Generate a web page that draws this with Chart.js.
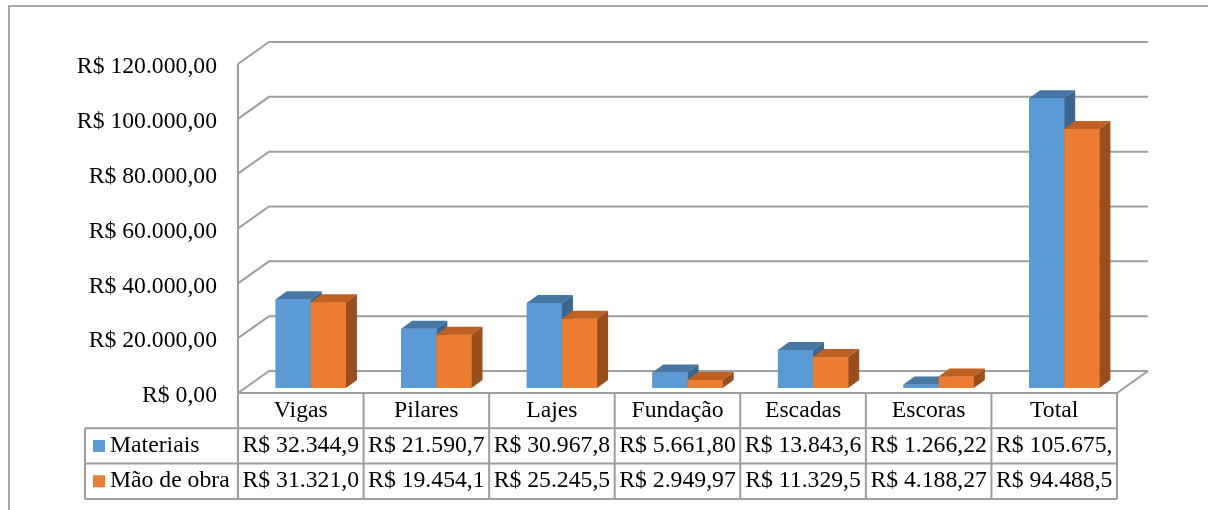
<!DOCTYPE html>
<html>
<head>
<meta charset="utf-8">
<script src="https://cdn.jsdelivr.net/npm/chart.js@4/dist/chart.umd.min.js"></script>
<style>
  html, body { margin: 0; padding: 0; background: #fff; }
  canvas { display: block; }
</style>
</head>
<body>
<canvas id="chart" width="1208" height="510"></canvas>
<script>
// Custos por elemento estrutural
const categories = ['Vigas', 'Pilares', 'Lajes', 'Fundação', 'Escadas', 'Escoras', 'Total'];
const seriesNames = ['Materiais', 'Mão de obra'];
const materiais = [32344.95, 21590.73, 30967.84, 5661.80, 13843.62, 1266.22, 105675.16];
const maoDeObra = [31321.05, 19454.12, 25245.53, 2949.97, 11329.56, 4188.27, 94488.50];
const yTicks = [0, 20000, 40000, 60000, 80000, 100000, 120000];

const FONT = '"Liberation Serif", "Times New Roman", serif';
const FS = 23.7;
const LINE = '#9e9e9e';
const COLORS = [
  { front: '#5b9bd5', top: '#4676a4', side: '#3a6690' },
  { front: '#ed7d31', top: '#bf6023', side: '#9a4e1c' }
];
// oblique projection: front edge, back wall and bar depth offsets
const FRONT = { dx: -10, dy: 5 };
const BACK = { dx: 21, dy: -17 };
const BAR3D = { dx: 11, dy: -8 };
const ROW_H = 35.3;
const LABEL_LEFT = 85;

function brl(v) {
  const parts = Number(v).toFixed(2).split('.');
  return 'R$ ' + parts[0].replace(/\B(?=(\d{3})+(?!\d))/g, '.') + ',' + parts[1];
}

const framePlugin = {
  id: 'frame',
  beforeDraw(chart) {
    const ctx = chart.ctx;
    ctx.save();
    ctx.fillStyle = '#fff';
    ctx.fillRect(0, 0, chart.width, chart.height);
    ctx.strokeStyle = '#a6a6a6';
    ctx.lineWidth = 2;
    ctx.beginPath();
    ctx.moveTo(9, chart.height);
    ctx.lineTo(9, 6);
    ctx.lineTo(chart.width, 6);
    ctx.stroke();
    ctx.restore();
  }
};

const wallPlugin = {
  id: 'wall',
  beforeDatasetsDraw(chart) {
    const ctx = chart.ctx, a = chart.chartArea, ys = chart.scales.y;
    const p0 = ys.getPixelForValue(0);
    const pMax = ys.getPixelForValue(yTicks[yTicks.length - 1]);
    ctx.save();
    ctx.strokeStyle = LINE;
    ctx.lineWidth = 2;
    ctx.beginPath();
    yTicks.forEach(v => {
      const p = ys.getPixelForValue(v);
      ctx.moveTo(a.left + FRONT.dx, p + FRONT.dy);
      ctx.lineTo(a.left + BACK.dx, p + BACK.dy);
      ctx.lineTo(a.right + BACK.dx, p + BACK.dy);
    });
    // side wall front edge
    ctx.moveTo(a.left + FRONT.dx, pMax + FRONT.dy);
    ctx.lineTo(a.left + FRONT.dx, p0 + FRONT.dy);
    // floor front and right edges
    ctx.lineTo(a.right + FRONT.dx, p0 + FRONT.dy);
    ctx.lineTo(a.right + BACK.dx, p0 + BACK.dy);
    ctx.stroke();
    ctx.restore();
  }
};

// Gives each bar a top and a right face; series are painted back to front
// per category so a neighbour's front face hides the hidden side.
const bar3dPlugin = {
  id: 'bar3d',
  afterDatasetsDraw(chart) {
    const ctx = chart.ctx;
    const metas = chart.data.datasets.map((d, i) => chart.getDatasetMeta(i));
    ctx.save();
    categories.forEach((cat, j) => {
      metas.forEach((meta, s) => {
        const bar = meta.data[j];
        if (!bar) return;
        const c = COLORS[s];
        const p = bar.getProps(['x', 'y', 'base', 'width'], true);
        const l = p.x - p.width / 2, r = p.x + p.width / 2;
        const t = Math.min(p.y, p.base), b = Math.max(p.y, p.base);
        ctx.fillStyle = c.front;
        ctx.fillRect(l, t, r - l, b - t);
        ctx.fillStyle = c.top;
        ctx.beginPath();
        ctx.moveTo(l, t);
        ctx.lineTo(l + BAR3D.dx, t + BAR3D.dy);
        ctx.lineTo(r + BAR3D.dx, t + BAR3D.dy);
        ctx.lineTo(r, t);
        ctx.closePath();
        ctx.fill();
        ctx.fillStyle = c.side;
        ctx.beginPath();
        ctx.moveTo(r, t);
        ctx.lineTo(r + BAR3D.dx, t + BAR3D.dy);
        ctx.lineTo(r + BAR3D.dx, b + BAR3D.dy);
        ctx.lineTo(r, b);
        ctx.closePath();
        ctx.fill();
      });
    });
    ctx.restore();
  }
};

const tablePlugin = {
  id: 'dataTable',
  afterDraw(chart) {
    const ctx = chart.ctx, a = chart.chartArea, ys = chart.scales.y;
    const x0 = a.left + FRONT.dx, x1 = a.right + FRONT.dx;
    const colW = (x1 - x0) / categories.length;
    const yTop = ys.getPixelForValue(0) + FRONT.dy;
    const rows = [yTop, yTop + ROW_H, yTop + 2 * ROW_H, yTop + 3 * ROW_H];
    const series = [materiais, maoDeObra];

    ctx.save();
    ctx.strokeStyle = LINE;
    ctx.lineWidth = 2;
    ctx.beginPath();
    for (let i = 1; i < rows.length; i++) {
      ctx.moveTo(LABEL_LEFT, rows[i]);
      ctx.lineTo(x1, rows[i]);
    }
    ctx.moveTo(LABEL_LEFT, rows[1]);
    ctx.lineTo(LABEL_LEFT, rows[3]);
    for (let k = 0; k <= categories.length; k++) {
      ctx.moveTo(x0 + k * colW, rows[0]);
      ctx.lineTo(x0 + k * colW, rows[3]);
    }
    ctx.stroke();

    ctx.font = FS + 'px ' + FONT;
    ctx.fillStyle = '#000';
    ctx.textBaseline = 'middle';
    ctx.textAlign = 'center';
    categories.forEach((name, i) => {
      ctx.fillText(name, x0 + (i + 0.5) * colW, (rows[0] + rows[1]) / 2);
    });

    const avail = colW - 6;
    series.forEach((vals, s) => {
      const cy = (rows[s + 1] + rows[s + 2]) / 2;
      ctx.fillStyle = COLORS[s].front;
      ctx.fillRect(93, cy - 6, 12, 12);
      ctx.fillStyle = '#000';
      ctx.textAlign = 'left';
      ctx.fillText(seriesNames[s], 110, cy);
      ctx.textAlign = 'center';
      vals.forEach((v, i) => {
        let txt = brl(v);
        while (txt.length > 1 && ctx.measureText(txt).width > avail) txt = txt.slice(0, -1);
        ctx.fillText(txt, x0 + (i + 0.5) * colW, cy);
      });
    });
    ctx.restore();
  }
};

new Chart(document.getElementById('chart'), {
  type: 'bar',
  data: {
    labels: categories,
    datasets: [
      { label: seriesNames[0], data: materiais, backgroundColor: COLORS[0].front },
      { label: seriesNames[1], data: maoDeObra, backgroundColor: COLORS[1].front }
    ]
  },
  options: {
    responsive: false,
    animation: false,
    events: [],
    layout: { padding: { top: 59, bottom: 122, left: 0, right: 81 } },
    datasets: { bar: { categoryPercentage: 0.56, barPercentage: 1, borderWidth: 0 } },
    plugins: { legend: { display: false }, tooltip: { enabled: false }, title: { display: false } },
    scales: {
      x: { type: 'category', display: false, offset: true },
      y: {
        min: 0,
        max: 120000,
        afterBuildTicks: s => { s.ticks = yTicks.map(v => ({ value: v })); },
        afterFit: s => { s.width = 248; },
        grid: { display: false, drawTicks: false },
        border: { display: false },
        ticks: {
          padding: 31,
          labelOffset: 8,
          color: '#000',
          font: { family: FONT, size: FS },
          callback: v => brl(v)
        }
      }
    }
  },
  plugins: [framePlugin, wallPlugin, bar3dPlugin, tablePlugin]
});
</script>
</body>
</html>
